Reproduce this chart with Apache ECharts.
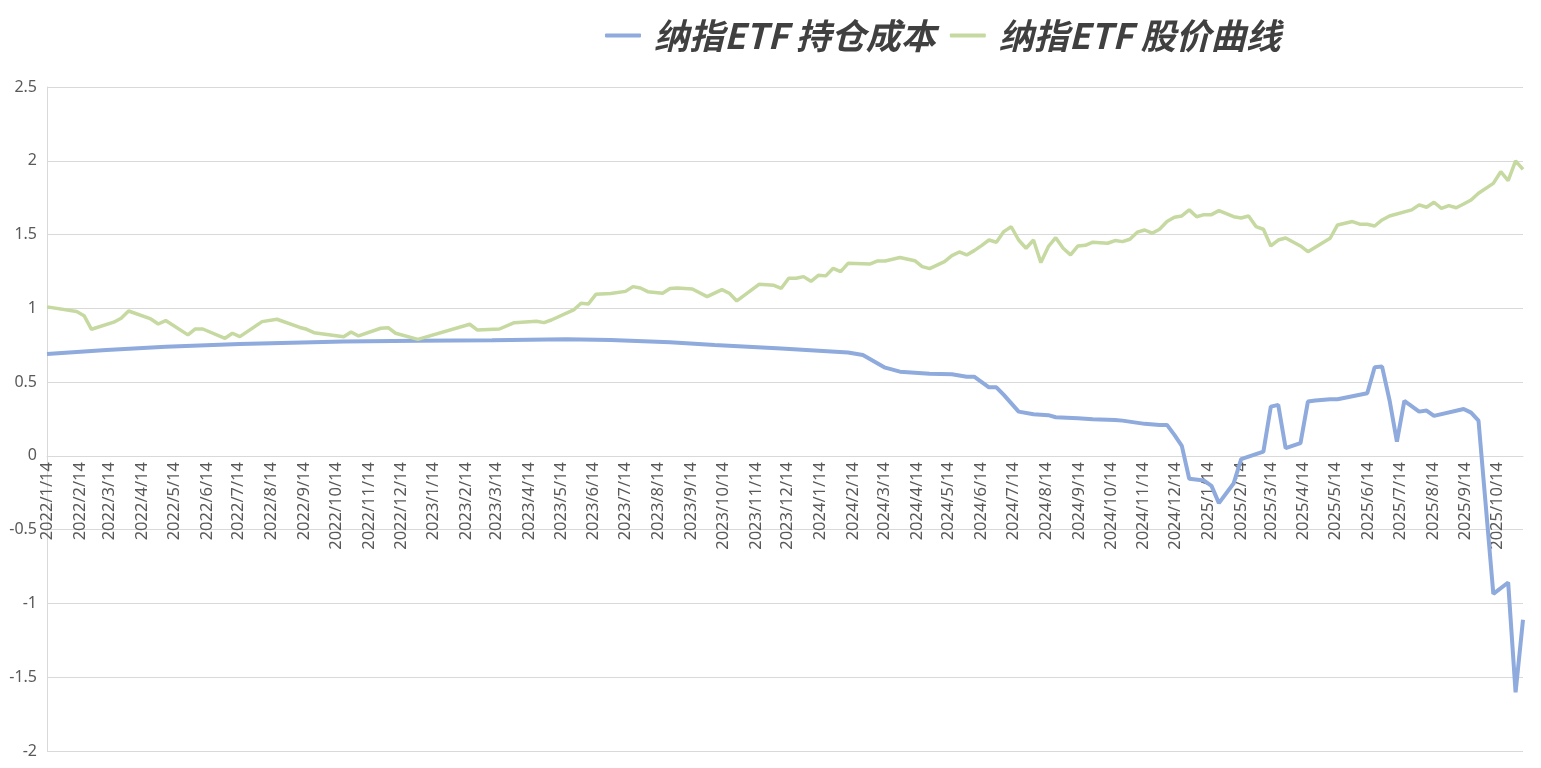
<!DOCTYPE html>
<html>
<head>
<meta charset="utf-8">
<script src="https://cdn.jsdelivr.net/npm/echarts@6/dist/echarts.min.js"></script>
<style>
html,body{margin:0;padding:0;background:#fff;}
#chart{width:1541px;height:768px;}
</style>
</head>
<body>
<div id="chart"></div>
<script>
// Axis range (daily date axis, labels on the 14th of each month)
const axisStart = '2022/1/14';
const axisEnd = '2025/11/7';
const yTicks = { min: -2, max: 2.5, interval: 0.5 };
const seriesNames = ['纳指ETF 持仓成本', '纳指ETF 股价曲线'];

// 纳指ETF 持仓成本
const costDates = ['2022/1/14','2022/3/11','2022/5/6','2022/7/15','2022/10/21','2022/12/30','2023/3/10','2023/5/19','2023/6/30','2023/8/25','2023/10/6','2023/12/8','2024/2/9','2024/2/23','2024/3/15','2024/3/29','2024/4/12','2024/4/26','2024/5/17','2024/5/31','2024/6/7','2024/6/21','2024/6/28','2024/7/5','2024/7/19','2024/8/2','2024/8/16','2024/8/23','2024/9/13','2024/9/27','2024/10/18','2024/10/25','2024/11/15','2024/11/29','2024/12/6','2024/12/13','2024/12/20','2024/12/27','2025/1/10','2025/1/17','2025/1/24','2025/2/7','2025/2/14','2025/3/7','2025/3/14','2025/3/21','2025/3/28','2025/4/11','2025/4/18','2025/4/25','2025/5/9','2025/5/16','2025/6/13','2025/6/20','2025/6/27','2025/7/4','2025/7/11','2025/7/18','2025/8/1','2025/8/8','2025/8/15','2025/9/12','2025/9/19','2025/9/26','2025/10/10','2025/10/24','2025/10/31','2025/11/7'];
const costValues = [0.69,0.718,0.74,0.759,0.775,0.78,0.783,0.79,0.785,0.77,0.752,0.728,0.70,0.684,0.598,0.571,0.564,0.556,0.553,0.537,0.537,0.465,0.465,0.413,0.30,0.282,0.276,0.262,0.255,0.249,0.244,0.239,0.217,0.21,0.21,0.142,0.068,-0.155,-0.167,-0.203,-0.32,-0.185,-0.022,0.029,0.334,0.346,0.052,0.086,0.368,0.375,0.384,0.384,0.425,0.601,0.605,0.379,0.097,0.373,0.30,0.307,0.271,0.318,0.293,0.239,-0.935,-0.858,-1.603,-1.111];

// 纳指ETF 股价曲线
const priceDates = ['2022/1/14','2022/2/11','2022/2/18','2022/2/25','2022/3/18','2022/3/25','2022/4/1','2022/4/22','2022/4/29','2022/5/6','2022/5/27','2022/6/3','2022/6/10','2022/7/1','2022/7/8','2022/7/15','2022/8/5','2022/8/19','2022/9/9','2022/9/16','2022/9/23','2022/10/21','2022/10/28','2022/11/4','2022/11/25','2022/12/2','2022/12/9','2022/12/30','2023/2/17','2023/2/24','2023/3/17','2023/3/31','2023/4/21','2023/4/28','2023/5/5','2023/5/26','2023/6/2','2023/6/9','2023/6/16','2023/6/30','2023/7/14','2023/7/21','2023/7/28','2023/8/4','2023/8/18','2023/8/25','2023/9/1','2023/9/15','2023/9/29','2023/10/13','2023/10/20','2023/10/27','2023/11/17','2023/12/1','2023/12/8','2023/12/15','2023/12/22','2023/12/29','2024/1/5','2024/1/12','2024/1/19','2024/1/26','2024/2/2','2024/2/9','2024/3/1','2024/3/8','2024/3/15','2024/3/29','2024/4/12','2024/4/19','2024/4/26','2024/5/10','2024/5/17','2024/5/24','2024/5/31','2024/6/7','2024/6/14','2024/6/21','2024/6/28','2024/7/5','2024/7/12','2024/7/19','2024/7/26','2024/8/2','2024/8/9','2024/8/16','2024/8/23','2024/8/30','2024/9/6','2024/9/13','2024/9/20','2024/9/27','2024/10/11','2024/10/18','2024/10/25','2024/11/1','2024/11/8','2024/11/15','2024/11/22','2024/11/29','2024/12/6','2024/12/13','2024/12/20','2024/12/27','2025/1/3','2025/1/10','2025/1/17','2025/1/24','2025/2/7','2025/2/14','2025/2/21','2025/2/28','2025/3/7','2025/3/14','2025/3/21','2025/3/28','2025/4/11','2025/4/18','2025/5/9','2025/5/16','2025/5/30','2025/6/6','2025/6/13','2025/6/20','2025/6/27','2025/7/4','2025/7/25','2025/8/1','2025/8/8','2025/8/15','2025/8/22','2025/8/29','2025/9/5','2025/9/12','2025/9/19','2025/9/26','2025/10/10','2025/10/17','2025/10/24','2025/10/31','2025/11/7'];
const priceValues = [1.01,0.978,0.95,0.858,0.906,0.933,0.982,0.928,0.894,0.917,0.82,0.86,0.86,0.797,0.831,0.808,0.91,0.926,0.872,0.858,0.835,0.808,0.84,0.813,0.865,0.869,0.831,0.79,0.892,0.854,0.86,0.903,0.912,0.903,0.921,0.989,1.034,1.03,1.095,1.10,1.115,1.147,1.138,1.113,1.102,1.134,1.138,1.131,1.079,1.127,1.102,1.05,1.163,1.156,1.136,1.204,1.204,1.215,1.183,1.224,1.22,1.271,1.249,1.305,1.301,1.321,1.321,1.344,1.323,1.283,1.269,1.316,1.357,1.382,1.362,1.391,1.425,1.463,1.448,1.52,1.553,1.463,1.407,1.463,1.31,1.418,1.479,1.407,1.362,1.423,1.427,1.448,1.441,1.459,1.452,1.468,1.516,1.531,1.509,1.536,1.588,1.617,1.626,1.667,1.621,1.635,1.635,1.662,1.621,1.612,1.626,1.554,1.536,1.423,1.463,1.477,1.423,1.384,1.475,1.565,1.588,1.57,1.57,1.558,1.599,1.626,1.667,1.701,1.685,1.719,1.678,1.696,1.682,1.707,1.734,1.78,1.847,1.926,1.865,2.0,1.942];

// daily categories for the date axis
function buildDays(a, b) {
  const p = s => { const t = s.split('/').map(Number); return Date.UTC(t[0], t[1] - 1, t[2]); };
  const out = [];
  for (let t = p(a); t <= p(b); t += 86400000) {
    const d = new Date(t);
    out.push(d.getUTCFullYear() + '/' + (d.getUTCMonth() + 1) + '/' + d.getUTCDate());
  }
  return out;
}
const days = buildDays(axisStart, axisEnd);

const chart = echarts.init(document.getElementById('chart'), null, { renderer: 'canvas' });
const labelColor = '#595959';
const gridColor = '#d9d9d9';
const fontFam = '"Noto Sans", "Open Sans", sans-serif';
// grid geometry: 87 (top) .. 751 (bottom) for -2..2.5 ; the date axis sits at value 0
const gridTop = 87, gridBottomPx = 751;
const zeroOffset = -Math.round((gridBottomPx - gridTop) * (0 - yTicks.min) / (yTicks.max - yTicks.min));

chart.setOption({
  animation: false,
  backgroundColor: '#ffffff',
  legend: {
    left: 600,
    top: 13,
    itemWidth: 36,
    itemHeight: 4,
    itemGap: 14,
    icon: 'roundRect',
    textStyle: {
      fontFamily: '"Noto Sans CJK SC", sans-serif',
      fontSize: 35,
      fontWeight: 'bold',
      fontStyle: 'italic',
      color: '#404040',
      padding: [0, 0, 0, 8]
    },
    data: seriesNames
  },
  grid: { left: 47, right: 18, top: gridTop, bottom: 768 - gridBottomPx, containLabel: false, outerBoundsMode: 'none' },
  xAxis: {
    type: 'category',
    data: days,
    boundaryGap: false,
    position: 'bottom',
    offset: zeroOffset,
    axisLine: { onZero: false, lineStyle: { color: gridColor, width: 1 } },
    axisTick: { show: false },
    splitLine: { show: false },
    axisLabel: {
      interval: (idx, val) => /\/14$/.test(val),
      rotate: 90,
      margin: 6,
      color: labelColor,
      fontSize: 16.5,
      fontFamily: fontFam
    }
  },
  yAxis: {
    type: 'value',
    min: yTicks.min,
    max: yTicks.max,
    interval: yTicks.interval,
    axisLine: { show: true, lineStyle: { color: gridColor } },
    axisTick: { show: false },
    splitLine: { lineStyle: { color: gridColor, width: 1 } },
    axisLabel: { color: labelColor, fontSize: 16, fontFamily: fontFam, margin: 10 }
  },
  series: [
    {
      name: seriesNames[0],
      type: 'line',
      symbol: 'none',
      connectNulls: true,
      z: 3,
      data: costDates.map((d, i) => [d, costValues[i]]),
      lineStyle: { color: '#8FAADC', width: 4 },
      itemStyle: { color: '#8FAADC' }
    },
    {
      name: seriesNames[1],
      type: 'line',
      symbol: 'none',
      connectNulls: true,
      z: 3,
      data: priceDates.map((d, i) => [d, priceValues[i]]),
      lineStyle: { color: '#C5D9A0', width: 3.5 },
      itemStyle: { color: '#C5D9A0' }
    }
  ]
});
</script>
</body>
</html>
